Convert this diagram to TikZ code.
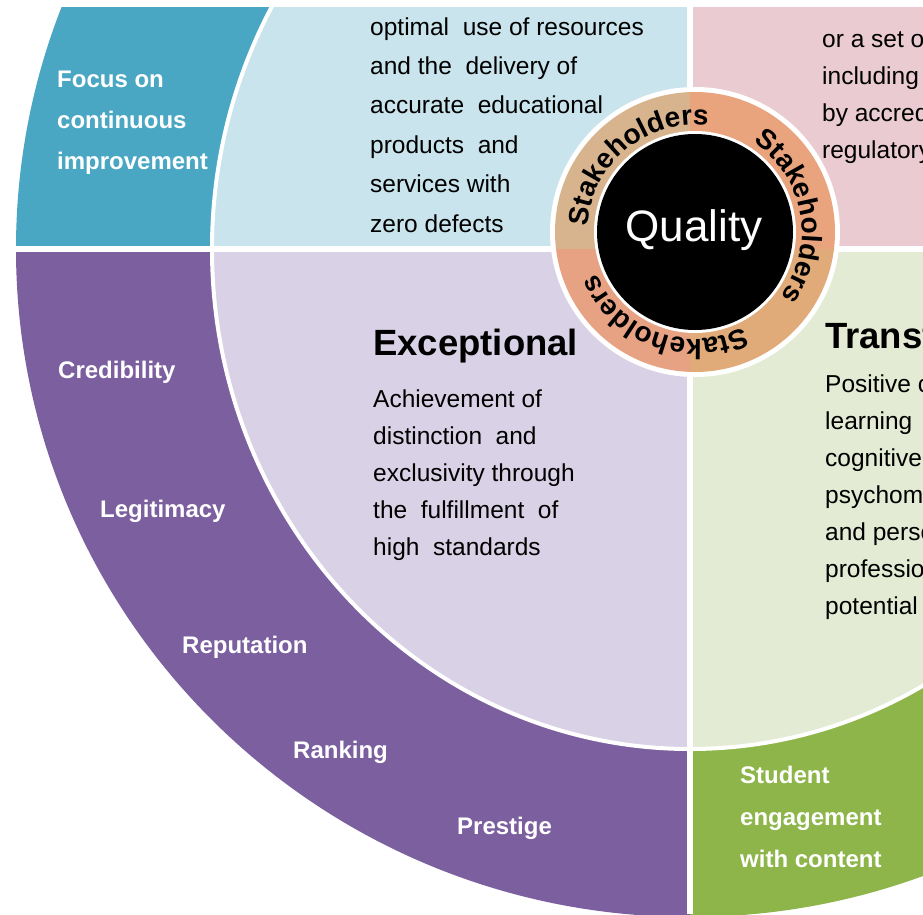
\documentclass[tikz,border=0pt]{standalone}
\usepackage{fontspec}
\setmainfont{Liberation Sans}
\usetikzlibrary{decorations.text}

\definecolor{focusblue}{HTML}{4AA7C3}
\definecolor{innerblue}{HTML}{C9E4EC}
\definecolor{innerpink}{HTML}{EACBD1}
\definecolor{outerpurple}{HTML}{7B5F9F}
\definecolor{innerlilac}{HTML}{D9D1E5}
\definecolor{innergreen}{HTML}{E3EBD4}
\definecolor{outergreen}{HTML}{8DB54A}
\definecolor{ringtan}{HTML}{D8B48E}
\definecolor{ringsalmon}{HTML}{E9A37D}
\definecolor{ringorange}{HTML}{E0AB78}
\definecolor{ringrose}{HTML}{E7A283}

\newcommand{\stakefont}{\fontsize{28}{28}\selectfont\bfseries}

\tikzset{
    bandlabel/.style={anchor=base west, inner sep=0pt, text=white, align=left,
        font=\fontsize{24}{41}\selectfont\bfseries},
    bodytext/.style={anchor=base west, inner sep=0pt, align=left,
        font=\fontsize{24.5}{37}\selectfont},
    heading/.style={anchor=base west, inner sep=0pt,
        font=\fontsize{36.5}{40}\selectfont\bfseries},
    stakeholders/.style={decorate, decoration={text along path, text align=center,
        text={|\stakefont|Stakeholders}}}
}

\begin{document}
\begin{tikzpicture}[x=1pt, y=1pt]
    \useasboundingbox (-690,-665) rectangle (233,249);
    \fill[white] (-690,-665) rectangle (233,249);
    \begin{scope}
        \clip (-690,-665) rectangle (233,242);
        % outer band
        \fill[focusblue] (0,0) -- (0,668) arc[start angle=90, end angle=180, x radius=674, y radius=668] -- cycle;
        \fill[outerpurple] (0,0) -- (-674,0) arc[start angle=180, end angle=270, x radius=674, y radius=668] -- cycle;
        \fill[outergreen] (0,0) -- (0,-668) arc[start angle=270, end angle=360, x radius=674, y radius=668] -- cycle;
        % inner quarters
        \fill[innerpink] (0,0) -- (478,0) arc[start angle=0, end angle=90, x radius=478, y radius=500] -- cycle;
        \fill[innerblue] (0,0) -- (0,500) arc[start angle=90, end angle=180, x radius=478, y radius=500] -- cycle;
        \fill[innerlilac] (0,0) -- (-478,0) arc[start angle=180, end angle=270, x radius=478, y radius=500] -- cycle;
        \fill[innergreen] (0,0) -- (0,-500) arc[start angle=270, end angle=360, x radius=478, y radius=500] -- cycle;
        \draw[white, line width=4] (0,0) ellipse [x radius=478, y radius=500];
        \draw[white, line width=6] (-690,0) -- (233,0);
        \draw[white, line width=6] (0,-665) -- (0,249);

        % multi-line nodes sit on their last baseline
        \node (focus) [bandlabel] at (-633,80) {Focus on\\continuous\\improvement};
        \node (credibility) [bandlabel] at (-632,-129) {Credibility};
        \node (legitimacy) [bandlabel] at (-590,-268) {Legitimacy};
        \node (reputation) [bandlabel] at (-508,-404) {Reputation};
        \node (ranking) [bandlabel] at (-397,-509) {Ranking};
        \node (prestige) [bandlabel] at (-233,-585) {Prestige};
        \node (student) [bandlabel, font=\fontsize{24}{42}\selectfont\bfseries] at (50,-618)
            {Student\\engagement\\with content};

        \node (perfection text) [bodytext, font=\fontsize{24.5}{39.4}\selectfont] at (-320,17)
            {optimal\ \ use of resources\\and the\ \ delivery of\\accurate\ \ educational\\products\ \ and\\services with\\zero defects};
        \node (fitness text) [bodytext] at (132,91)
            {or a set of\\including\\by accrediting\\regulatory};
        \node (exceptional) [heading] at (-317,-106) {Exceptional};
        \node (exceptional text) [bodytext] at (-317,-306)
            {Achievement of\\distinction\ \ and\\exclusivity through\\the\ \ fulfillment\ \ of\\high\ \ standards};
        \node (transformative) [heading] at (135,-99) {Transformative};
        \node (transformative text) [bodytext] at (135,-365)
            {Positive change\\learning\\cognitive,\\psychomotor\\and personal\\professional\\potential};

        % hub
        \coordinate (hub) at (5,17);
        \fill[white] (hub) circle (145);
        \begin{scope}
            \clip (hub) circle (140);
            \fill[ringtan] (-150,0) rectangle (0,170);
            \fill[ringsalmon] (0,0) rectangle (150,170);
            \fill[ringorange] (0,0) rectangle (150,-130);
            \fill[ringrose] (-150,0) rectangle (0,-130);
        \end{scope}
        \fill[white] (hub) circle (101);
        \fill[black] (hub) circle (98);
        \node (quality) at (4,19) [text=white, font=\fontsize{44}{44}\selectfont] {Quality};
        \foreach \mid [evaluate=\mid as \sa using \mid+48,
                       evaluate=\mid as \ea using \mid-48] in {130,10,-110}
            \path[stakeholders] (hub) ++(\sa:107) arc[start angle=\sa, end angle=\ea, radius=107];
    \end{scope}
\end{tikzpicture}
\end{document}
